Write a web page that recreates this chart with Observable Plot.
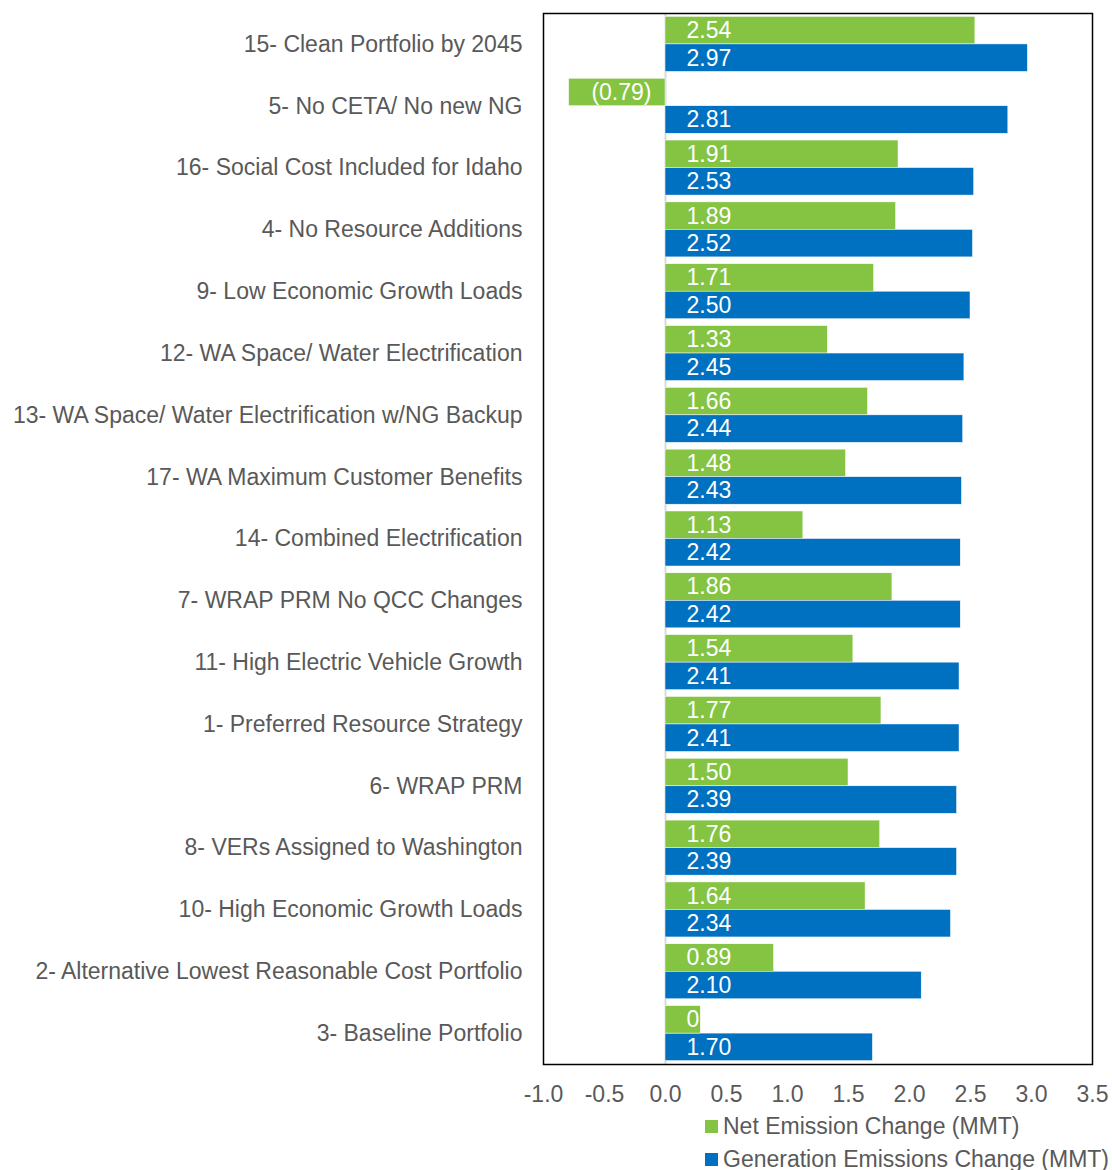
<!DOCTYPE html>
<html><head><meta charset="utf-8">
<script src="https://cdn.jsdelivr.net/npm/d3@7"></script>
<script src="https://cdn.jsdelivr.net/npm/@observablehq/plot@0.6"></script>
<style>
body{margin:0;background:#fff;width:1112px;height:1170px;overflow:hidden;font-family:"Liberation Sans",Arial,sans-serif;}
#chart svg{display:block;}
.legend{margin-left:705px;font-size:23px;color:#595959;white-space:nowrap;}
.legend .row{height:33px;line-height:33px;display:flex;align-items:center;}
.legend .sw{width:13px;height:13px;margin-right:5px;flex:none;}
</style></head><body>
<div id="chart"></div>
<div class="legend" id="legend"></div>
<script>
const categories = [
  "15- Clean Portfolio by 2045",
  "5- No CETA/ No new NG",
  "16- Social Cost Included for Idaho",
  "4- No Resource Additions",
  "9- Low Economic Growth Loads",
  "12- WA Space/ Water Electrification",
  "13- WA Space/ Water Electrification w/NG Backup",
  "17- WA Maximum Customer Benefits",
  "14- Combined Electrification",
  "7- WRAP PRM No QCC Changes",
  "11- High Electric Vehicle Growth",
  "1- Preferred Resource Strategy",
  "6- WRAP PRM",
  "8- VERs Assigned to Washington",
  "10- High Economic Growth Loads",
  "2- Alternative Lowest Reasonable Cost Portfolio",
  "3- Baseline Portfolio"
];
const netValues = [2.54, -0.79, 1.91, 1.89, 1.71, 1.33, 1.66, 1.48, 1.13, 1.86, 1.54, 1.77, 1.50, 1.76, 1.64, 0.89, 0];
const genValues = [2.97, 2.81, 2.53, 2.52, 2.50, 2.45, 2.44, 2.43, 2.42, 2.42, 2.41, 2.41, 2.39, 2.39, 2.34, 2.10, 1.70];
const seriesNames = ["Net Emission Change (MMT)", "Generation Emissions Change (MMT)"];
const seriesColors = ["#84C442", "#0070C0"];
const xTicks = [-1, -0.5, 0, 0.5, 1, 1.5, 2, 2.5, 3, 3.5];

const rows = categories.map((c, i) => ({cat: c, net: netValues[i], gen: genValues[i]}));
const fmt = v => v < 0 ? `(${(-v).toFixed(2)})` : v === 0 ? "0" : v.toFixed(2);

const W = 1112, H = 1110, mt = 13, mb = 46, ml = 543, mr = 20;
const pIn = 0.11, pOut = 0.055;
const step = (H - mt - mb) / (categories.length - pIn + 2 * pOut);
const bw = step * (1 - pIn);
const FONT = '"Liberation Sans", Arial, sans-serif';

const netPos = rows.filter(d => d.net >= 0);
const netNeg = rows.filter(d => d.net < 0);

const chart = Plot.plot({
  width: W, height: H,
  marginTop: mt, marginBottom: mb, marginLeft: ml, marginRight: mr,
  style: {fontFamily: FONT, fontSize: "23px", color: "#595959", background: "#fff"},
  x: {domain: [-1, 3.5], ticks: xTicks, tickFormat: d => d.toFixed(1), tickSize: 0, tickPadding: 21, label: null},
  y: {domain: categories, paddingInner: pIn, paddingOuter: pOut, round: false, tickSize: 0, tickPadding: 21, label: null},
  marks: [
    Plot.ruleX([0], {stroke: "#D9D9D9", strokeWidth: 2}),
    Plot.barX(rows, {x: "net", y: "cat", fill: seriesColors[0], insetBottom: bw / 2, stroke: "#fff", strokeWidth: 0.5}),
    Plot.barX(rows, {x: "gen", y: "cat", fill: seriesColors[1], insetTop: bw / 2, stroke: "#fff", strokeWidth: 0.5}),
    Plot.text(netPos, {x: d => 0, y: "cat", text: d => fmt(d.net), dy: -bw / 4, dx: 21, textAnchor: "start", fill: "#fff", fontSize: 23}),
    Plot.text(netNeg, {x: d => 0, y: "cat", text: d => fmt(d.net), dy: -bw / 4, dx: -14, textAnchor: "end", fill: "#fff", fontSize: 23}),
    Plot.text(rows, {x: d => 0, y: "cat", text: d => fmt(d.gen), dy: bw / 4, dx: 21, textAnchor: "start", fill: "#fff", fontSize: 23}),
    Plot.frame({stroke: "#000", strokeWidth: 1.5})
  ]
});
document.getElementById("chart").append(chart);

// label background box in the series colour, only where a label overhangs its bar (e.g. "0")
try {
  const xs = chart.scale("x"), ys = chart.scale("y");
  const zero = xs.apply(0);
  const svgRect = chart.getBoundingClientRect();
  const groups = chart.querySelectorAll('g[aria-label="text"]');
  if (groups.length >= 1) {
    const g = groups[0];
    const texts = g.querySelectorAll("text");
    texts.forEach((t, i) => {
      const r = t.getBoundingClientRect();
      const right = r.right - svgRect.left + 1;
      const barEnd = xs.apply(netPos[i].net);
      if (right <= barEnd) return;
      const y0 = ys.apply(netPos[i].cat);
      const rect = document.createElementNS("http://www.w3.org/2000/svg", "rect");
      rect.setAttribute("x", zero);
      rect.setAttribute("y", y0);
      rect.setAttribute("width", Math.max(0, right - zero));
      rect.setAttribute("height", bw / 2);
      rect.setAttribute("fill", seriesColors[0]);
      rect.setAttribute("stroke", "#fff");
      rect.setAttribute("stroke-width", 0.5);
      g.parentNode.insertBefore(rect, g);
    });
  }
} catch (e) { console.error(e); }

const legend = document.getElementById("legend");
seriesNames.forEach((n, i) => {
  const row = document.createElement("div");
  row.className = "row";
  const sw = document.createElement("span");
  sw.className = "sw";
  sw.style.background = seriesColors[i];
  const tx = document.createElement("span");
  tx.textContent = n;
  row.append(sw, tx);
  legend.append(row);
});
</script>
</body></html>
